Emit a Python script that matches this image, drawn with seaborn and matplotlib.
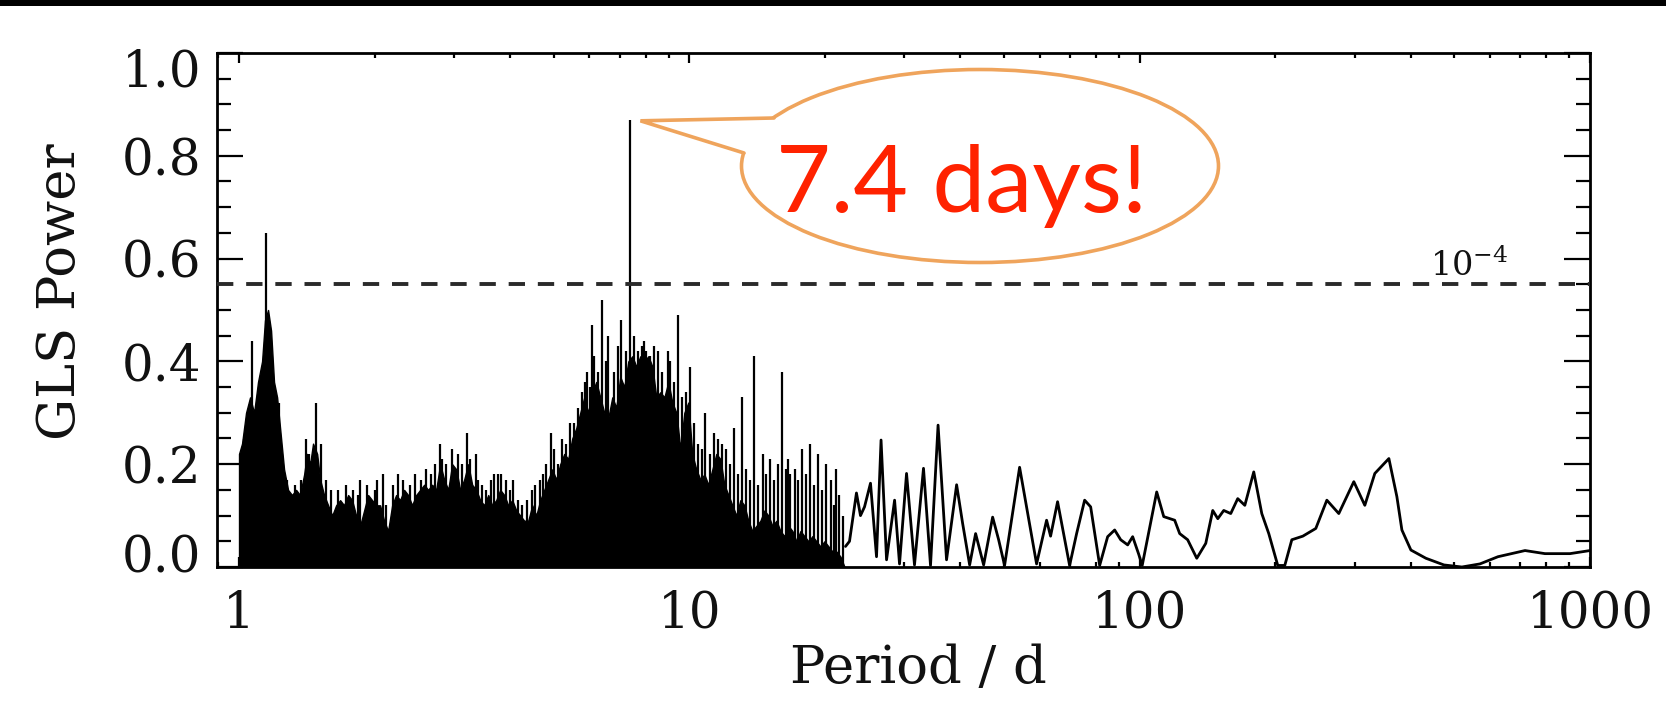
import matplotlib
matplotlib.use("Agg")
import matplotlib.pyplot as plt
import seaborn as sns
import numpy as np
import pandas as pd
from matplotlib.patches import Ellipse, Polygon, Rectangle
from matplotlib.lines import Line2D
from matplotlib.ticker import FixedLocator, LogLocator, MultipleLocator, NullFormatter
from matplotlib.transforms import ScaledTranslation

# ---- GLS periodogram values -------------------------------------------------
# Short periods: the forest of peaks is so dense it reads as a solid block;
# this is the upper edge of that block.
forest_period = [1.000, 1.0155, 1.0365, 1.058, 1.080, 1.102, 1.125, 1.142, 1.160, 1.178,
                 1.196, 1.215, 1.240, 1.259, 1.285, 1.311, 1.339, 1.366, 1.395, 1.416,
                 1.438, 1.460, 1.491, 1.514, 1.545, 1.577, 1.610, 1.643, 1.677, 1.711,
                 1.747, 1.783, 1.820, 1.857, 1.896, 1.935, 1.975, 2.016, 2.057, 2.100,
                 2.143, 2.188, 2.233, 2.279, 2.326, 2.374, 2.423, 2.474, 2.525, 2.577,
                 2.630, 2.685, 2.740, 2.797, 2.855, 2.914, 2.974, 3.036, 3.098, 3.162,
                 3.228, 3.294, 3.363, 3.432, 3.503, 3.576, 3.650, 3.725, 3.802, 3.881,
                 3.961, 4.043, 4.127, 4.212, 4.299, 4.388, 4.479, 4.571, 4.666, 4.762,
                 4.861, 4.961, 5.064, 5.168, 5.275, 5.384, 5.495, 5.609, 5.725, 5.843,
                 5.964, 6.087, 6.213, 6.342, 6.473, 6.607, 6.743, 6.883, 7.025, 7.171,
                 7.319, 7.470, 7.625, 7.783, 7.943, 8.108, 8.276, 8.447, 8.622, 8.800,
                 8.982, 9.168, 9.357, 9.550, 9.747, 9.949, 10.15, 10.36, 10.58, 10.80,
                 11.02, 11.25, 11.48, 11.72, 11.96, 12.21, 12.46, 12.72, 12.98, 13.25,
                 13.52, 13.80, 14.09, 14.38, 14.68, 14.98, 15.29, 15.61, 15.93, 16.26,
                 16.60, 16.94, 17.29, 17.65, 18.01, 18.39, 18.76, 19.15, 19.55, 19.95,
                 20.37, 20.79, 21.22, 21.66, 22.11]
forest_power = [0.22, 0.24, 0.30, 0.33, 0.30, 0.36, 0.40, 0.48, 0.50, 0.46,
                0.36, 0.33, 0.25, 0.19, 0.15, 0.14, 0.15, 0.14, 0.18, 0.22,
                0.20, 0.24, 0.22, 0.17, 0.14, 0.12, 0.10, 0.12, 0.13, 0.12,
                0.14, 0.13, 0.10, 0.08, 0.11, 0.14, 0.13, 0.12, 0.12, 0.09,
                0.07, 0.12, 0.14, 0.13, 0.15, 0.14, 0.12, 0.14, 0.15, 0.16,
                0.15, 0.16, 0.15, 0.20, 0.17, 0.15, 0.20, 0.19, 0.15, 0.17,
                0.20, 0.16, 0.15, 0.13, 0.12, 0.14, 0.12, 0.13, 0.15, 0.14,
                0.12, 0.13, 0.11, 0.10, 0.09, 0.09, 0.12, 0.10, 0.13, 0.15,
                0.17, 0.19, 0.17, 0.20, 0.22, 0.21, 0.25, 0.27, 0.30, 0.33,
                0.30, 0.34, 0.36, 0.33, 0.30, 0.29, 0.33, 0.31, 0.37, 0.35,
                0.40, 0.41, 0.39, 0.41, 0.40, 0.41, 0.39, 0.33, 0.34, 0.33,
                0.36, 0.32, 0.30, 0.23, 0.30, 0.32, 0.22, 0.19, 0.17, 0.18,
                0.16, 0.19, 0.22, 0.21, 0.16, 0.14, 0.12, 0.10, 0.13, 0.12,
                0.09, 0.07, 0.08, 0.09, 0.11, 0.10, 0.08, 0.09, 0.07, 0.06,
                0.08, 0.07, 0.05, 0.07, 0.06, 0.05, 0.06, 0.05, 0.04, 0.05,
                0.04, 0.03, 0.03, 0.02, 0.0]

# Narrow peaks that rise above the solid block
spike_period = [1.026, 1.069, 1.148, 1.227, 1.28, 1.33, 1.37, 1.409, 1.43, 1.483,
                1.521, 1.56, 1.60, 1.66, 1.73, 1.79, 1.84, 1.857, 1.92, 2.00,
                2.03, 2.089, 2.12, 2.20, 2.25, 2.31, 2.40, 2.46, 2.54, 2.60,
                2.67, 2.72, 2.797, 2.83, 2.88, 2.974, 3.06, 3.13, 3.211, 3.26,
                3.363, 3.40, 3.47, 3.54, 3.62, 3.69, 3.76, 3.822, 3.92, 4.00,
                4.064, 4.17, 4.25, 4.35, 4.479, 4.55, 4.666, 4.72, 4.81, 4.935,
                5.01, 5.11, 5.22, 5.33, 5.44, 5.552, 5.67, 5.78, 5.873, 5.92,
                6.02, 6.087, 6.15, 6.28, 6.407, 6.54, 6.607, 6.813, 6.95, 7.062,
                7.25, 7.4, 7.55, 7.70, 7.86, 7.943, 8.03, 8.191, 8.36, 8.534,
                8.71, 8.982, 9.07, 9.26, 9.454, 9.65, 9.85, 10.05, 10.26, 10.47,
                10.69, 10.85, 11.13, 11.36, 11.60, 11.84, 12.09, 12.34, 12.59, 12.85,
                13.12, 13.38, 13.66, 13.94, 14.23, 14.60, 14.83, 15.14, 15.45, 15.77,
                16.10, 16.43, 16.60, 16.77, 17.20, 17.47, 17.83, 18.20, 18.57, 18.95,
                19.35, 19.75, 20.16, 20.58, 21.00, 21.22, 21.44, 21.90]
spike_power = [0.25, 0.44, 0.65, 0.32, 0.17, 0.16, 0.17, 0.25, 0.22, 0.32,
               0.24, 0.17, 0.15, 0.15, 0.16, 0.15, 0.14, 0.17, 0.16, 0.15,
               0.17, 0.18, 0.12, 0.16, 0.18, 0.17, 0.16, 0.18, 0.17, 0.19,
               0.18, 0.20, 0.24, 0.21, 0.20, 0.23, 0.22, 0.20, 0.26, 0.21,
               0.22, 0.17, 0.16, 0.15, 0.17, 0.18, 0.18, 0.18, 0.17, 0.15,
               0.17, 0.13, 0.12, 0.13, 0.15, 0.16, 0.17, 0.18, 0.20, 0.26,
               0.23, 0.20, 0.25, 0.24, 0.28, 0.28, 0.31, 0.34, 0.36, 0.38,
               0.35, 0.47, 0.41, 0.38, 0.52, 0.40, 0.45, 0.38, 0.43, 0.48,
               0.42, 0.87, 0.45, 0.42, 0.43, 0.44, 0.42, 0.41, 0.43, 0.42,
               0.38, 0.42, 0.40, 0.36, 0.49, 0.33, 0.34, 0.39, 0.28, 0.24,
               0.23, 0.30, 0.22, 0.26, 0.25, 0.24, 0.23, 0.20, 0.27, 0.18,
               0.33, 0.19, 0.17, 0.41, 0.16, 0.22, 0.18, 0.21, 0.17, 0.20,
               0.38, 0.19, 0.21, 0.18, 0.19, 0.17, 0.23, 0.18, 0.24, 0.16,
               0.22, 0.15, 0.20, 0.17, 0.12, 0.19, 0.14, 0.10]

# Long periods: individual peaks are resolved
long_period = [22.22, 22.68, 23.50, 23.99, 24.49, 25.25, 26.04, 26.65, 27.41, 28.56,
               29.29, 30.36, 31.62, 33.11, 34.32, 35.67, 37.25, 39.22, 40.44, 41.92,
               43.22, 45.03, 47.15, 48.62, 50.12, 54.12, 59.03, 62.13, 63.41, 65.72,
               69.89, 72.44, 75.47, 77.83, 81.50, 84.90, 88.00, 90.75, 94.05, 96.48,
               99.49, 101.3, 109.1, 113.1, 119.6, 122.7, 127.8, 133.9, 140.2, 145.3,
               149.1, 153.7, 159.3, 165.1, 171.2, 179.2, 186.7, 193.5, 202.6, 210.0,
               217.7, 230.3, 246.1, 260.4, 276.8, 298.9, 316.2, 332.8, 357.6, 372.5,
               382.2, 400.2, 432.1, 473.8, 519.4, 569.6, 624.6, 717.3, 794.3, 902.7,
               1000.0]
long_power = [0.04, 0.05, 0.144, 0.10, 0.117, 0.163, 0.02, 0.247, 0.014, 0.13,
              0.006, 0.182, 0.004, 0.192, 0.003, 0.276, 0.014, 0.16, 0.085, 0.004,
              0.065, 0.004, 0.097, 0.053, 0.003, 0.194, 0.006, 0.091, 0.06, 0.127,
              0.003, 0.065, 0.13, 0.117, 0.003, 0.059, 0.072, 0.053, 0.043, 0.059,
              0.025, 0.003, 0.146, 0.098, 0.091, 0.065, 0.053, 0.017, 0.046, 0.11,
              0.094, 0.11, 0.104, 0.133, 0.12, 0.185, 0.104, 0.065, 0.003, 0.003,
              0.053, 0.06, 0.075, 0.13, 0.104, 0.166, 0.12, 0.182, 0.211, 0.137,
              0.072, 0.033, 0.017, 0.004, 0.0, 0.006, 0.02, 0.032, 0.026, 0.026,
              0.032]

fap_level = 0.55
fap_label = r"$\mathregular{10^{-4}}$"
best_period = 7.4
best_power = 0.87
callout_text = "7.4 days!"

x_ticks = [1, 10, 100, 1000]
x_tick_labels = ["1", "10", "100", "1000"]
y_ticks = [0.0, 0.2, 0.4, 0.6, 0.8, 1.0]
y_tick_labels = ["0.0", "0.2", "0.4", "0.6", "0.8", "1.0"]

# ---- style ------------------------------------------------------------------
sns.set_theme(style="ticks")
plt.rcParams["font.family"] = ["DejaVu Serif"]
plt.rcParams["mathtext.default"] = "regular"
plt.rcParams["axes.linewidth"] = 2.0

W, H = 1666, 713
fig = plt.figure(figsize=(W / 100, H / 100), dpi=100)
fig.patch.set_facecolor("white")

# thin black band along the top edge
fig.patches.append(Rectangle((0, 1 - 6 / H), 1, 6 / H, transform=fig.transFigure,
                             facecolor="black", edgecolor="none", zorder=10))

ax = fig.add_axes([217 / W, 1 - 567 / H, (1590 - 217) / W, (567 - 53) / H])
ax.set_facecolor("white")

# solid block of the dense short-period forest
ax.fill_between(forest_period, 0, forest_power, color="black", lw=1.0, zorder=2)
# narrow peaks
ax.vlines(spike_period, 0, spike_power, color="black", lw=1.6, zorder=3)
# resolved long-period curve
long_df = pd.DataFrame({"period": long_period, "power": long_power})
sns.lineplot(data=long_df, x="period", y="power", ax=ax, color="black", lw=2.0,
             estimator=None, sort=False, zorder=3)

# false-alarm-probability level
ax.axhline(fap_level, color="#2a2a2a", lw=2.8, dashes=(4.2, 3.3), zorder=4)

ax.set_xscale("log")
ax.set_xlim(0.8935, 1000)
ax.set_ylim(0, 1.0)

ax.xaxis.set_major_locator(FixedLocator(x_ticks))
ax.set_xticklabels(x_tick_labels)
ax.xaxis.set_minor_locator(LogLocator(base=10, subs=np.arange(2, 10)))
ax.xaxis.set_minor_formatter(NullFormatter())
ax.yaxis.set_major_locator(FixedLocator(y_ticks))
ax.set_yticklabels(y_tick_labels)
ax.yaxis.set_minor_locator(MultipleLocator(0.05))

ax.tick_params(axis="both", which="both", direction="in", top=True, right=True,
               colors="black", width=1.6, labelsize=36, labelcolor="#111111")
ax.tick_params(axis="x", which="major", length=7.5, pad=16)
ax.tick_params(axis="x", which="minor", length=3.8)
ax.tick_params(axis="y", which="major", length=19, pad=11)
ax.tick_params(axis="y", which="minor", length=10)
for s in ax.spines.values():
    s.set_color("black")
    s.set_linewidth(2.0)

# end labels of the y axis are nudged inside the frame
yticks = ax.yaxis.get_major_ticks()
lab0 = yticks[0].label1
lab0.set_transform(lab0.get_transform() + ScaledTranslation(0, 0.14, fig.dpi_scale_trans))
labN = yticks[-1].label1
labN.set_transform(labN.get_transform() + ScaledTranslation(0, -0.14, fig.dpi_scale_trans))

ax.set_xlabel("Period / d", fontsize=38, color="#111111")
ax.xaxis.set_label_coords(0.511, -(683 - 567) / 514)
ax.xaxis.label.set_va("baseline")
ax.set_ylabel("GLS Power", fontsize=38, color="#111111")
ax.yaxis.set_label_coords(-(217 - 60) / 1373, 0.535)
ax.yaxis.label.set_va("center")

# ---- overlay in pixel units for the annotations -----------------------------
ov = fig.add_axes([0, 0, 1, 1], zorder=5)
ov.set_xlim(0, W)
ov.set_ylim(H, 0)
ov.axis("off")
ov.patch.set_alpha(0)

ov.text(1430, 276, fap_label, fontsize=24, color="#111111", ha="left", va="baseline")

# speech bubble pointing at the strongest peak
orange = "#EFA45C"
tip_disp = ax.transData.transform((best_period, best_power))
tip = (tip_disp[0] + 10, H - tip_disp[1] + 1)
upper = (774, 118)
lower = (744, 153)
ov.add_patch(Ellipse((980, 166), 477, 193, facecolor="white", edgecolor=orange,
                     lw=2.6, zorder=1))
ov.add_patch(Polygon([tip, upper, (800, 135), (765, 158), lower], closed=True,
                     facecolor="white", edgecolor="none", zorder=2))
ov.add_line(Line2D([upper[0], tip[0], lower[0]], [upper[1], tip[1], lower[1]],
                   color=orange, lw=2.6, solid_joinstyle="miter", zorder=3))
ov.text(962, 212, callout_text, fontsize=68, color="#FF2200", ha="center",
        va="baseline", family=["Lato", "DejaVu Sans"], zorder=4)

fig.savefig("out.png", dpi=100, facecolor="white")
